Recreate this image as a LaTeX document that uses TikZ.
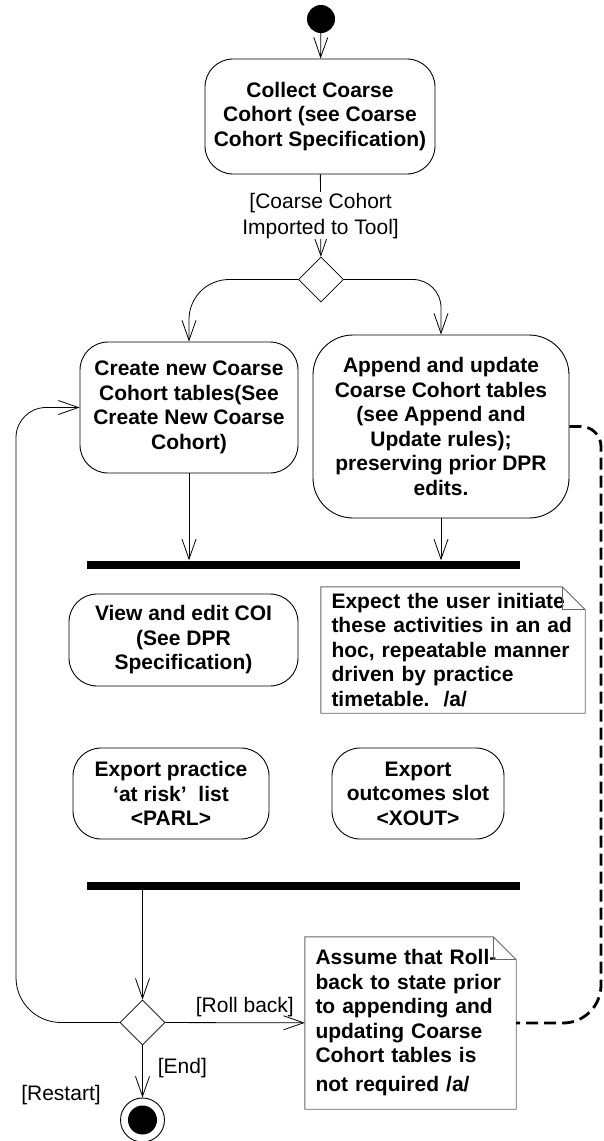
\documentclass[tikz,border=0pt]{standalone}
\usepackage{fontspec}
\setmainfont{Liberation Sans}
\usetikzlibrary{arrows.meta,shapes.geometric,calc}
\begin{document}
\begin{tikzpicture}[x=1pt,y=-1pt,
  act/.style={draw, line width=0.9pt, rounded corners=28pt, align=center,
    font=\fontsize{21}{24.5}\selectfont\bfseries, inner sep=0pt},
  arr/.style={line width=0.8pt, -{Straight Barb[length=20pt,width=14pt]}},
  lbl/.style={font=\fontsize{21}{26}\selectfont, align=center, inner sep=1pt},
  barnode/.style={fill=black, minimum width=433pt, minimum height=8pt, inner sep=0pt},
  dec/.style={draw, diamond, line width=0.8pt, minimum width=45pt, minimum height=45pt, inner sep=0pt},
  notetxt/.style={align=left, font=\fontsize{21}{24.5}\selectfont\bfseries, inner xsep=10.5pt, inner ysep=0pt},
  noteline/.style={draw=black!60, line width=0.9pt},
  dashl/.style={line width=2.8pt, dash pattern=on 12pt off 6pt}
]
\useasboundingbox (0,0) rectangle (604,1141);

% nodes
\node[circle, fill, minimum size=28pt, inner sep=0pt] (start) at (321,19) {};
\node[act, minimum width=230pt, minimum height=115pt] (collect) at (320,116.5)
  {Collect Coarse\\Cohort (see Coarse\\Cohort Specification)};
\node[dec] (d1) at (321,279.5) {};
\node[act, minimum width=218pt, minimum height=131pt] (create) at (189,407.5)
  {Create new Coarse\\Cohort tables(See\\Create New Coarse\\Cohort)};
\node[act, rounded corners=40pt, minimum width=256pt, minimum height=183pt] (append) at (441,426.5)
  {Append and update\\Coarse Cohort tables\\(see Append and\\Update rules);\\preserving prior DPR\\edits.};
\node[barnode] (bar1) at (303.5,564.5) {};
\node[act, minimum width=229pt, minimum height=92pt] (view) at (183.5,640)
  {View and edit COI\\(See DPR\\Specification)};
\node[notetxt, text width=243pt, minimum width=264pt, minimum height=126pt] (note1) at (453,650)
  {Expect the user initiate\\these activities in an ad\\hoc, repeatable manner\\driven by practice\\timetable.~~/a/};
\node[act, minimum width=196pt, minimum height=91pt] (parl) at (171,793.5)
  {Export practice\\‘at risk’~~list\\<PARL>};
\node[act, minimum width=172pt, minimum height=91pt] (xout) at (418,793.5)
  {Export\\outcomes slot\\<XOUT>};
\node[barnode] (bar2) at (303.5,886) {};
\node[dec] (d2) at (142.5,1022.5) {};
\node[notetxt, text width=190pt, minimum width=211pt, minimum height=172pt] (note2) at (410.5,1023)
  {Assume that Roll-\\back to state prior\\to appending and\\updating Coarse\\Cohort tables is\\[4.5pt]not required /a/};
\node[circle, draw, line width=0.9pt, minimum size=44pt, inner sep=0pt] (final) at (142.5,1120) {};
\fill (final.center) circle (14.5pt);
\node[lbl] (restart) at (61,1095) {[Restart]};

% note outlines
\draw[noteline] (note1.north west) -- ([xshift=-23pt]note1.north east) -- ([yshift=-23pt]note1.north east)
  -- (note1.south east) -- (note1.south west) -- cycle;
\draw[noteline] ([xshift=-23pt]note1.north east) -- ([xshift=-23pt,yshift=-23pt]note1.north east) -- ([yshift=-23pt]note1.north east);
\draw[noteline] (note2.north west) -- ([xshift=-23pt]note2.north east) -- ([yshift=-23pt]note2.north east)
  -- (note2.south east) -- (note2.south west) -- cycle;
\draw[noteline] ([xshift=-23pt]note2.north east) -- ([xshift=-23pt,yshift=-23pt]note2.north east) -- ([yshift=-23pt]note2.north east);

% connectors
\draw[arr] (start) -- (collect);
\draw[arr] (collect) -- node[lbl, fill=white] (guard) {[Coarse Cohort\\Imported to Tool]} (d1);
\draw[arr, rounded corners=40pt] (d1.west) -| (create.north);
\draw[arr, rounded corners=28pt] (d1.east) -| (append.north);
\draw[arr] (create) -- (create.south |- bar1.north);
\draw[arr] (append) -- (append.south |- bar1.north);
\draw[arr] (d2.north |- bar2.south) -- (d2);
\draw[arr] (d2) -- node[lbl, anchor=west, xshift=14pt, yshift=3pt] (endlbl) {[End]} (final);
\draw[arr] (d2) -- node[lbl, above=4pt, pos=0.57] (rolllbl) {[Roll back]} (note2);

\coordinate (lp) at (16,407.5);
\draw[arr] (d2.west) -- ([xshift=45pt]d2.west -| lp) arc[start angle=270, end angle=180, radius=45pt]
  -- ([yshift=-30pt]lp) arc[start angle=180, end angle=90, radius=30pt] -- (create.west);

\coordinate (dcol) at (601,700);
\draw[dashl] (append.east) -- ([xshift=-20pt]append.east -| dcol) arc[start angle=90, end angle=0, radius=20pt]
  -- ([yshift=38pt]note2.east -| dcol) arc[start angle=0, end angle=-90, radius=38pt] -- (note2.east);
\end{tikzpicture}
\end{document}
